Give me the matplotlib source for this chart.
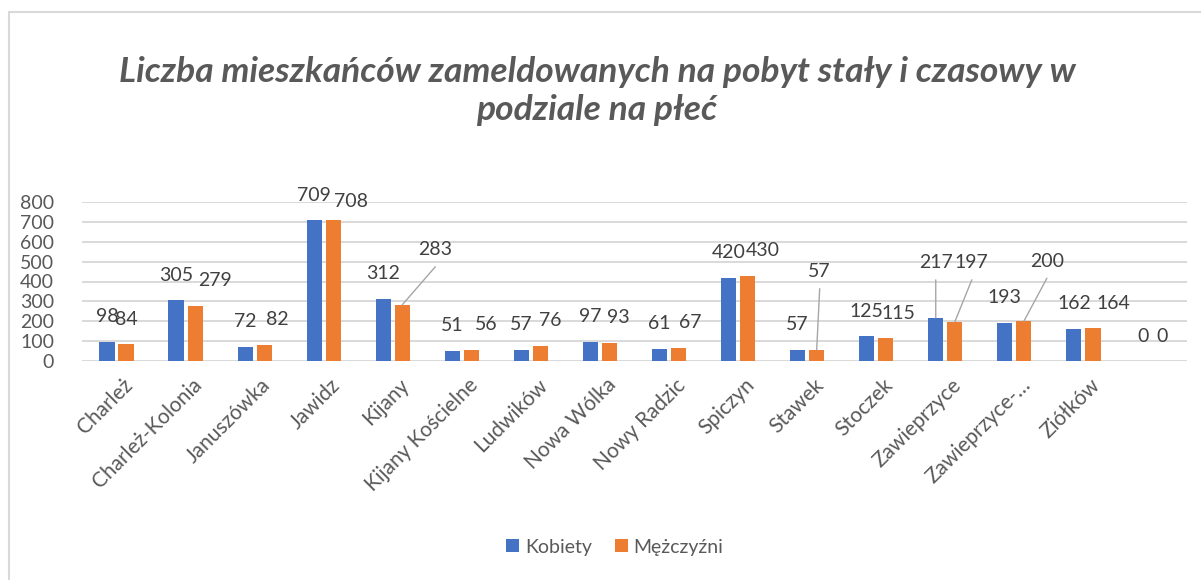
import numpy as np
import matplotlib
matplotlib.use("Agg")
import matplotlib.pyplot as plt
import matplotlib.transforms as mtransforms
from matplotlib.patches import Rectangle

plt.rcParams['font.family'] = ['Lato', 'DejaVu Sans']

# data
villages = ["Charleż", "Charleż-Kolonia", "Januszówka", "Jawidz", "Kijany",
            "Kijany Kościelne", "Ludwików", "Nowa Wólka", "Nowy Radzic",
            "Spiczyn", "Stawek", "Stoczek", "Zawieprzyce", "Zawieprzyce-…",
            "Ziółków", ""]
kobiety = [98, 305, 72, 709, 312, 51, 57, 97, 61, 420, 57, 125, 217, 193, 162, 0]
mezczyzni = [84, 279, 82, 708, 283, 56, 76, 93, 67, 430, 57, 115, 197, 200, 164, 0]
yticks = [0, 100, 200, 300, 400, 500, 600, 700, 800]

# labels nudged away from their bar: (series, index) -> shift in px
moved = {(1, 1): (20, 0), (1, 2): (13, 0), (1, 3): (18, -6), (1, 4): (33, 30),
         (1, 5): (15, 0), (1, 6): (10, 0), (1, 7): (9, 0), (1, 8): (12, 0),
         (1, 9): (15, 0), (1, 10): (3, 53), (1, 11): (13, 0), (0, 12): (0, 30),
         (1, 12): (17, 34), (1, 13): (23, 35), (1, 14): (20, 0)}
leaders = {(1, 4), (1, 10), (0, 12), (1, 12), (1, 13)}

blue = '#4472C4'
orange = '#ED7D31'
txt = '#404040'
grey = '#595959'

W, H = 1201, 580
fig = plt.figure(figsize=(W / 100, H / 100), dpi=100)
ax = fig.add_axes([82 / W, (H - 361) / H, (1187 - 82) / W, (361 - 202) / H])

x = np.arange(len(villages))
bw = 0.22
off = 0.138
ax.bar(x - off, kobiety, bw, color=blue, label='Kobiety', zorder=3)
ax.bar(x + off, mezczyzni, bw, color=orange, label='Mężczyźni', zorder=3)

ax.set_xlim(-0.5, len(villages) - 0.5)
ax.set_ylim(0, 800)
ax.set_yticks(yticks)
ax.yaxis.grid(True, color='#d9d9d9', lw=1.4, zorder=0)
ax.set_axisbelow(True)
for s in ax.spines.values():
    s.set_visible(False)
ax.tick_params(axis='y', length=0, pad=20, labelsize=14, labelcolor=grey)
ax.tick_params(axis='x', length=0, pad=10, labelsize=15, labelcolor=grey)
ax.set_xticks(x)
ax.set_xticklabels(villages, rotation=45, ha='right', rotation_mode='anchor')
shift = mtransforms.ScaledTranslation(6 / 100, 0, fig.dpi_scale_trans)
for lab in ax.get_xticklabels():
    lab.set_transform(lab.get_transform() + shift)

# data labels
for si, (vals, sign) in enumerate([(kobiety, -1), (mezczyzni, 1)]):
    for i, v in enumerate(vals):
        bx = i + sign * off
        dx, dy = moved.get((si, i), (0, 0))
        ax.annotate(str(v), (bx, v), xytext=(dx, 25 + dy), textcoords='offset pixels',
                    ha='center', va='center', fontsize=14, color=txt, zorder=5)
        if (si, i) in leaders:
            ax.annotate('', (bx, v), xytext=(dx, 25 + dy - 17), textcoords='offset pixels',
                        arrowprops=dict(arrowstyle='-', color='#a6a6a6', lw=1,
                                        shrinkA=0, shrinkB=0), zorder=4)

fig.text(597 / W, 1 - 91 / H, "Liczba mieszkańców zameldowanych na pobyt stały i czasowy w\npodziale na płeć",
         ha='center', va='center', fontsize=25.5, fontweight='bold', fontstyle='italic',
         color=grey, linespacing=1.2)

fig.legend(loc='center', bbox_to_anchor=(615 / W, 1 - 547 / H), ncol=2, frameon=False,
           handlelength=0.65, handleheight=0.65, handletextpad=0.3, columnspacing=1.2,
           prop={'size': 14}, labelcolor=grey)

fig.add_artist(Rectangle((9 / W, -0.1), 1.2, (H - 12) / H + 0.1, transform=fig.transFigure,
                         fill=False, edgecolor='#d9d9d9', lw=1.5))

fig.savefig('out.png', dpi=100)
